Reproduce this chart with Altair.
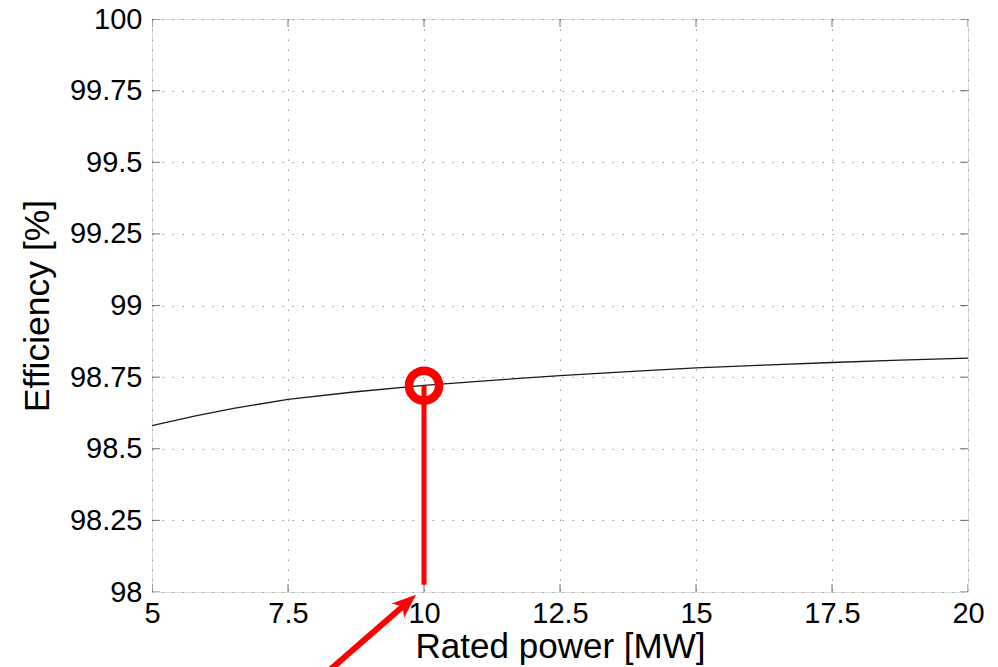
import altair as alt
import pandas as pd

# Curve
power = [5, 5.8, 6.5, 7.5, 8.75, 10, 11.25, 12.5, 13.75, 15, 16.25, 17.5, 18.75, 20]
efficiency = [98.581, 98.615, 98.641, 98.672, 98.699, 98.721, 98.739, 98.755,
              98.769, 98.782, 98.792, 98.801, 98.809, 98.816]

x_ticks = [5, 7.5, 10, 12.5, 15, 17.5, 20]
y_ticks = [98, 98.25, 98.5, 98.75, 99, 99.25, 99.5, 99.75, 100]

# Annotation (highlighted point at 10 MW)
marker_power = [10]
marker_eff = [98.72]
drop_bottom = [98.025]
arrow_tail_power = [8.1]
arrow_tail_eff = [97.70]
arrow_end_power = [9.715]
arrow_end_eff = [97.967]
arrow_tip_power = [9.853]
arrow_tip_eff = [97.99]

FONT = "Liberation Sans"
RED = "#ff0000"

curve = pd.DataFrame({"P": power, "E": efficiency})
marker = pd.DataFrame({"P": marker_power, "E": marker_eff, "E0": drop_bottom})
arrow = pd.DataFrame({"P": arrow_tail_power, "E": arrow_tail_eff,
                      "P2": arrow_end_power, "E2": arrow_end_eff})
tip = pd.DataFrame({"P": arrow_tip_power, "E": arrow_tip_eff})
xt = pd.DataFrame({"v": x_ticks})
yt = pd.DataFrame({"v": y_ticks})

xscale = alt.Scale(domain=[5, 20], nice=False, zero=False)
yscale = alt.Scale(domain=[98, 100], nice=False, zero=False)

grid_common = dict(grid=True, gridDash=[1.5, 8.5], gridColor="#9a9a9a", gridWidth=1,
                   domain=False, ticks=False, labelFont=FONT, labelFontSize=29,
                   labelColor="black", titleFont=FONT,
                   titleFontWeight="normal", titleColor="black", labelFlush=False,
                   labelOverlap=False, labelExpr="'' + datum.value")

xaxis = alt.Axis(values=x_ticks, labelPadding=7, titlePadding=1, titleFontSize=35,
                 title="Rated power [MW]", **grid_common)
yaxis = alt.Axis(values=y_ticks, labelPadding=10, titlePadding=14, titleFontSize=35.5,
                 title="Efficiency [%]", **grid_common)

line = alt.Chart(curve).mark_line(color="#1a1a1a", strokeWidth=1.3).encode(
    x=alt.X("P:Q", scale=xscale, axis=xaxis),
    y=alt.Y("E:Q", scale=yscale, axis=yaxis),
)

tick_style = dict(color="#333333", thickness=1, size=16, clip=True)
xt_bottom = alt.Chart(xt).mark_tick(orient="vertical", **tick_style).encode(
    x=alt.X("v:Q", scale=xscale), y=alt.datum(98))
xt_top = alt.Chart(xt).mark_tick(orient="vertical", **tick_style).encode(
    x=alt.X("v:Q", scale=xscale), y=alt.datum(100))
yt_left = alt.Chart(yt).mark_tick(orient="horizontal", **tick_style).encode(
    y=alt.Y("v:Q", scale=yscale), x=alt.datum(5))
yt_right = alt.Chart(yt).mark_tick(orient="horizontal", **tick_style).encode(
    y=alt.Y("v:Q", scale=yscale), x=alt.datum(20))

drop = alt.Chart(marker).mark_rule(color=RED, strokeWidth=5, strokeCap="butt").encode(
    x="P:Q", y="E0:Q", y2="E:Q")
circle = alt.Chart(marker).mark_point(color=RED, filled=False, strokeWidth=8.5,
                                      size=900, opacity=1).encode(
    x="P:Q", y="E:Q")
shaft = alt.Chart(arrow).mark_rule(color=RED, strokeWidth=6, strokeCap="butt").encode(
    x="P:Q", y="E:Q", x2="P2:Q", y2="E2:Q")
head = alt.Chart(tip).mark_point(shape="M0,0 L0.75,1.9 L0,1.4 L-0.75,1.9 Z",
                                 filled=True, color=RED, opacity=1, size=635,
                                 angle=49, strokeWidth=0).encode(
    x="P:Q", y="E:Q")

chart = alt.layer(line, xt_bottom, xt_top, yt_left, yt_right, drop, circle, shaft, head).properties(
    width=816, height=573,
    autosize=alt.AutoSizeParams(type="none"),
    padding={"left": 152, "top": 19, "right": 30, "bottom": 75},
).configure_view(stroke="#333333", strokeWidth=1.2).configure(background="white")

chart.save("out.html", embed_options={"renderer": "svg", "actions": False})
